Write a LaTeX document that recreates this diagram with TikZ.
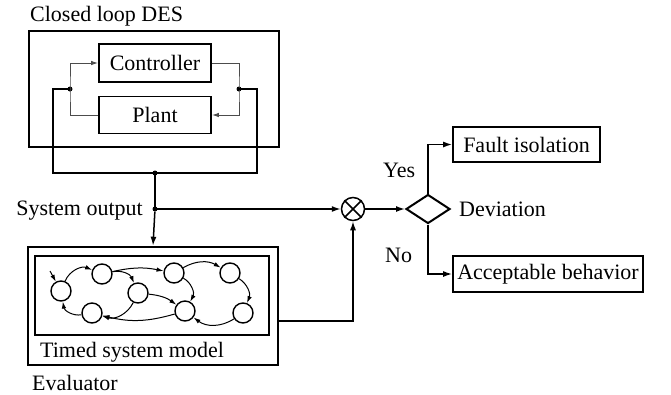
\documentclass[tikz,border=0pt]{standalone}
\usepackage{fontspec}
\setmainfont{Liberation Serif}
\newfontfamily\figfont{Liberation Serif}
\usetikzlibrary{shapes.geometric,positioning,arrows.meta}
\tikzset{
 bigbox/.style
  = {rectangle, draw, line width=2.5pt, inner sep=0pt},
 b/.style
  = {rectangle, draw, line width=1.7pt, inner sep=0pt, text centered},
 st/.style
  = {circle, draw, line width=1.4pt, minimum size=20pt, inner sep=0pt},
 lbl/.style
  = {inner sep=0pt},
 l/.style
  = {draw, line width=1.5pt, -{Latex[length=9pt,width=6pt]}},
 ln/.style
  = {draw, line width=1.5pt},
 lp/.style
  = {draw, black!70, line width=1pt},
 tr/.style
  = {draw, line width=1pt, -{Latex[length=7pt,width=4.5pt]}},
 dot/.style
  = {circle, fill, inner sep=0pt, minimum size=5pt},
}
\begin{document}
\begin{tikzpicture}[x=1pt, y=-1pt, font=\figfont\fontsize{22}{26}\selectfont]
    \useasboundingbox (0,0) rectangle (671,394);

    % closed loop
    \node [bigbox, minimum width=250pt, minimum height=116pt] (des) at (154,89) {};
    \node [lbl, anchor=base west] (destitle) at (30,21) {Closed loop DES};
    \node [b, minimum width=112pt, minimum height=38pt] (ctrl) at (155,63) {Controller};
    \node [b, minimum width=112pt, minimum height=37pt] (plant) at (155,115) {Plant};

    \node [dot] (jl) at (70,89) {};
    \node [dot] (jr) at (239,89) {};
    \node [dot] (jb) at (155,173) {};
    \node [dot] (jo) at (155,209) {};
    \coordinate (fl) at (53,173);
    \coordinate (fr) at (257,173);

    \path [lp, -{Latex[length=7pt,width=4.5pt]}] (plant.west) -| (jl.center) |- (ctrl.west);
    \path [lp, -{Latex[length=7pt,width=4.5pt]}] (ctrl.east) -| (jr.center) |- (plant.east);
    \path [ln] (jl.center) -| (fl) -- (fr) |- (jr.center);
    \path [ln] (jb.center) -- (jo.center);
    \node [lbl, anchor=base east] (sysout) at (143,215) {System output};

    % evaluator
    \node [bigbox, minimum width=250pt, minimum height=118pt] (eval) at (153,306) {};
    \node [b, line width=2pt, minimum width=234pt, minimum height=79pt] (model) at (152,295.5) {};
    \node [lbl, anchor=base west] (modeltitle) at (40,357) {Timed system model};
    \node [lbl, anchor=base west] (evaltitle) at (32,390) {Evaluator};
    \path [l] (jo) -- (eval.north);

    % timed automaton
    \node [st] (s1) at (61,291) {};
    \node [st] (s2) at (102,274) {};
    \node [st] (s3) at (138,293) {};
    \node [st] (s4) at (92,313) {};
    \node [st] (s5) at (174,273) {};
    \node [st] (s6) at (185,311) {};
    \node [st] (s7) at (230,273) {};
    \node [st] (s8) at (243,313) {};
    \coordinate (s0) at (50,271);
    \path [tr] (s0) -- (s1);
    \foreach \a/\b/\k in {1/2/45, 2/3/40, 2/5/12, 3/4/40, 3/6/15, 4/1/45,
                          5/6/45, 5/7/30, 7/8/40, 8/6/35, 6/4/15}
      \path [tr] (s\a) to[bend left=\k] (s\b);

    % comparison and decision
    \node [circle, draw, line width=1.5pt, minimum size=23pt, inner sep=0pt] (cmp) at (353,209) {};
    \path [ln] (cmp.45) -- (cmp.225) (cmp.135) -- (cmp.315);
    \node [diamond, draw, line width=2pt, minimum width=44pt, minimum height=29pt, inner sep=0pt] (dev) at (428,209) {};
    \node [lbl, anchor=base west] (devtitle) at (459,216) {Deviation};
    \node [b, minimum width=147pt, minimum height=35pt] (fault) at (526.5,144.5) {Fault isolation};
    \node [b, minimum width=190pt, minimum height=36pt] (ok) at (548,274) {Acceptable behavior};
    \coordinate (ec) at (353,321);

    \path [l] (jo.center) -- (cmp.west);
    \path [l] (eval.east |- ec) -- (ec) -- (cmp.south);
    \path [l] (cmp.east) -- (dev.west);
    \path [l] (dev.north) |- (fault.west);
    \path [l] (dev.south) |- (ok.west);
    \node [lbl, anchor=base west] (yes) at (383,177) {Yes};
    \node [lbl, anchor=base west] (no) at (385,262) {No};
  \end{tikzpicture}
\end{document}
